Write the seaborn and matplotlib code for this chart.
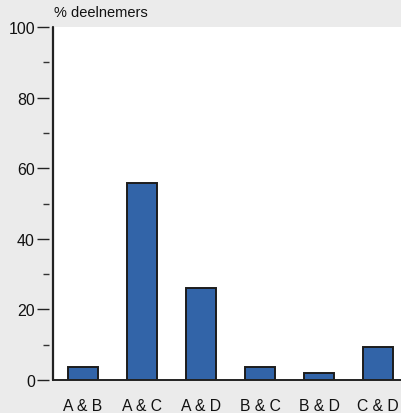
import pandas as pd
import numpy as np
import matplotlib.pyplot as plt
import seaborn as sns

# data
pairs = ['A & B', 'A & C', 'A & D', 'B & C', 'B & D', 'C & D']
percent = [3.7, 55.8, 26.0, 3.7, 1.9, 9.3]
y_major = [0, 20, 40, 60, 80, 100]
y_minor = [10, 30, 50, 70, 90]

sns.set_style('white')
plt.rcParams['font.family'] = ['Liberation Sans', 'DejaVu Sans']

df = pd.DataFrame({'pair': pairs, 'percent': percent})

fig = plt.figure(figsize=(4.01, 4.14), dpi=100, facecolor='#ebebeb')
ax = fig.add_axes([53 / 401, 33 / 414, 348 / 401, 353 / 414])
ax.set_facecolor('white')

sns.barplot(data=df, x='pair', y='percent', color='#3264a8', saturation=1,
            width=0.51, edgecolor='#1c1c1c', linewidth=1.4, ax=ax)

ax.set_xlim(-0.51, 5.39)
ax.set_ylim(0, 100)
ax.set_yticks(y_major)
ax.set_yticks(y_minor, minor=True)
ax.tick_params(axis='y', which='major', direction='out', length=9, width=1,
               color='#222222', labelsize=11.5, labelcolor='#111111',
               pad=1, left=True)
ax.tick_params(axis='y', which='minor', direction='out', length=4, width=1,
               color='#333333', left=True)
ax.tick_params(axis='x', length=0, labelsize=11.3, labelcolor='#111111',
               pad=13)

# ticks sit a few pixels left of the axis line
ax.spines['left'].set_position(('outward', 3))
ax.spines['left'].set_color('none')
ax.axvline(-0.51, color='#222222', lw=1.6, clip_on=False)
ax.spines['bottom'].set_color('#222222')
ax.spines['bottom'].set_linewidth(1.4)
for s in ['top', 'right']:
    ax.spines[s].set_visible(False)

ax.set_xlabel('')
ax.set_ylabel('')
fig.text(54 / 401, 1 - 13 / 414, '% deelnemers', fontsize=10.5,
         ha='left', va='center', color='#111111')

plt.savefig('out.png', dpi=100, facecolor=fig.get_facecolor())
